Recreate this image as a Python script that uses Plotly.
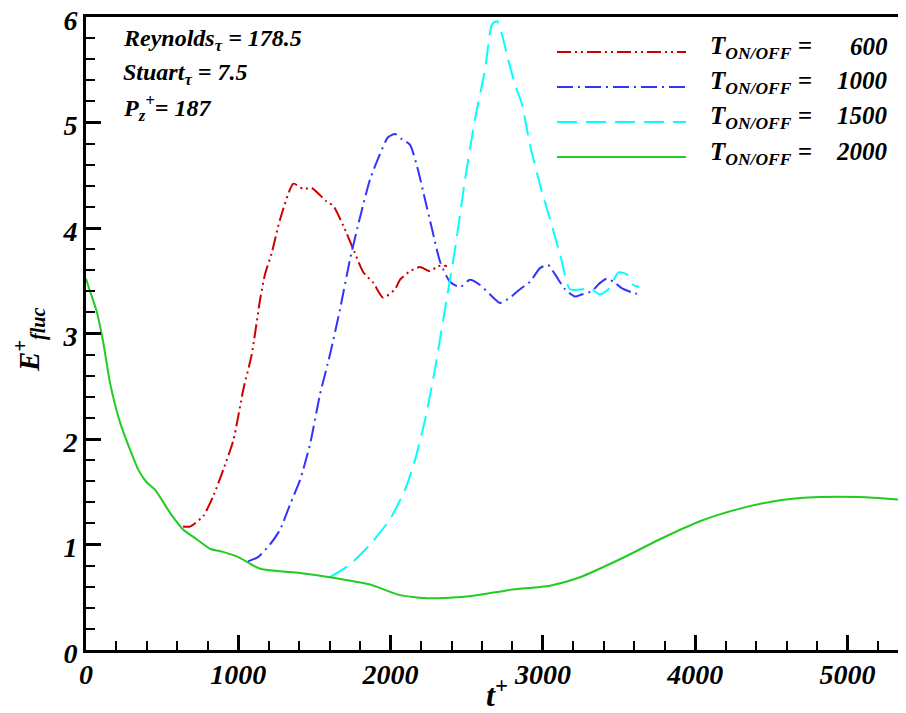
import plotly.graph_objects as go

# ---- data ----
t_600 = [637, 683, 770, 836, 902, 968, 1033, 1088, 1143, 1175, 1219, 1274, 1362, 1427, 1482,
         1580, 1624, 1690, 1755, 1821, 1887, 1950, 2029, 2062, 2127, 2193, 2259, 2311, 2370]
e_600 = [1.17, 1.17, 1.27, 1.46, 1.71, 1.99, 2.47, 2.80, 3.32, 3.56, 3.76, 4.08, 4.42, 4.37, 4.38,
         4.25, 4.21, 4.02, 3.80, 3.58, 3.48, 3.34, 3.42, 3.51, 3.59, 3.63, 3.59, 3.64, 3.64]

t_1000 = [1064, 1129, 1208, 1274, 1340, 1405, 1471, 1536, 1602, 1668, 1733, 1799, 1865, 1930, 1983,
          2029, 2075, 2127, 2180, 2226, 2272, 2325, 2390, 2456, 2521, 2587, 2653, 2718, 2784, 2850,
          2915, 2981, 3034, 3080, 3145, 3211, 3255, 3320, 3375, 3419, 3474, 3517, 3583, 3634]
e_1000 = [0.84, 0.88, 1.00, 1.14, 1.38, 1.61, 1.95, 2.42, 2.80, 3.23, 3.70, 4.10, 4.46, 4.70, 4.86,
          4.89, 4.84, 4.79, 4.55, 4.27, 3.99, 3.68, 3.49, 3.44, 3.51, 3.46, 3.37, 3.29, 3.34, 3.42,
          3.49, 3.62, 3.65, 3.56, 3.42, 3.35, 3.37, 3.40, 3.48, 3.52, 3.48, 3.43, 3.39, 3.37]

t_1500 = [1602, 1733, 1865, 1996, 2095, 2160, 2226, 2291, 2357, 2423, 2489, 2554, 2620, 2666, 2699,
          2732, 2771, 2817, 2863, 2915, 2981, 3047, 3113, 3178, 3270, 3309, 3375, 3430, 3496, 3551,
          3594, 3634]
e_1500 = [0.69, 0.81, 1.00, 1.24, 1.52, 1.80, 2.18, 2.66, 3.23, 3.80, 4.46, 5.03, 5.50, 5.93, 5.96,
          5.83, 5.60, 5.36, 5.17, 4.79, 4.41, 4.08, 3.75, 3.42, 3.42, 3.43, 3.37, 3.42, 3.58, 3.56,
          3.46, 3.44]

t_2000 = [0, 15, 70, 114, 158, 223, 289, 343, 398, 453, 552, 639, 727, 814, 900, 1000, 1143, 1405,
          1602, 1865, 2062, 2259, 2521, 2784, 3047, 3244, 3506, 3769, 4031, 4294, 4557, 4819, 5082, 5384]
e_2000 = [3.52, 3.45, 3.21, 2.91, 2.53, 2.16, 1.90, 1.71, 1.59, 1.52, 1.30, 1.14, 1.05, 0.96, 0.93,
          0.88, 0.77, 0.73, 0.69, 0.62, 0.52, 0.49, 0.51, 0.57, 0.61, 0.69, 0.86, 1.05, 1.22, 1.34,
          1.42, 1.45, 1.45, 1.42]

legend_values = ["600", "1000", "1500", "2000"]
x_ticks = [0, 1000, 2000, 3000, 4000, 5000]
y_ticks = [0, 1, 2, 3, 4, 5, 6]

colors = ["#cc0000", "#3333ff", "#00ffff", "#22cc22"]
dashes = ["14px,4px,2px,4px,2px,4px", "16px,5px,2px,5px", "20px,9px", "solid"]

FONT = "Liberation Serif"

series = [(t_600, e_600), (t_1000, e_1000), (t_1500, e_1500), (t_2000, e_2000)]

fig = go.Figure()
for (tx, ey), c, d in zip(series, colors, dashes):
    fig.add_trace(go.Scatter(x=tx, y=ey, mode="lines", showlegend=False,
                             line=dict(color=c, width=2, dash=d, shape="spline", smoothing=0.6)))

W, H = 906, 713
OFF = 8  # page body margin
# plot area in page pixels: left 86, top 17, bottom 650
L, T = 86 - OFF, 17 - OFF
B = H - (650 - OFF)
R = 0
pw, ph = W - L - R, H - T - B

def px(x):
    return (x - OFF - L) / pw

def py(y):
    return (H - B - (y - OFF)) / ph

# legend samples
leg_y = [52, 87, 122, 157]
for i, (c, d, v) in enumerate(zip(colors, dashes, legend_values)):
    fig.add_shape(type="line", xref="paper", yref="paper", x0=px(557), x1=px(686),
                  y0=py(leg_y[i]), y1=py(leg_y[i]), line=dict(color=c, width=2, dash=d))
    fig.add_annotation(xref="paper", yref="paper", x=px(708), y=py(leg_y[i] - 4),
                       xanchor="left", yanchor="middle", showarrow=False,
                       text="<b><i>T<sub>ON/OFF</sub> = </i></b>",
                       font=dict(family=FONT, size=25, color="black"))
    fig.add_annotation(xref="paper", yref="paper", x=px(890), y=py(leg_y[i] - 6),
                       xanchor="right", yanchor="middle", showarrow=False,
                       text="<b><i>" + v + "</i></b>",
                       font=dict(family=FONT, size=25, color="black"))

info = ["<b><i>Reynolds<sub>τ</sub> = 178.5</i></b>",
        "<b><i>Stuart<sub>τ</sub> = 7.5</i></b>",
        "<b><i>P<sub>z</sub><sup>+</sup>= 187</i></b>"]
for i, s in enumerate(info):
    fig.add_annotation(xref="paper", yref="paper", x=px(121), y=py(40 + 34 * i),
                       xanchor="left", yanchor="middle", showarrow=False, text=s,
                       font=dict(family=FONT, size=24, color="black"))

# axis titles
fig.add_annotation(xref="paper", yref="paper", x=px(497), y=py(693),
                   xanchor="center", yanchor="middle", showarrow=False,
                   text="<b><i>t<sup>+</sup></i></b>",
                   font=dict(family=FONT, size=32, color="black"))
fig.add_annotation(xref="paper", yref="paper", x=px(29), y=py(340),
                   xanchor="center", yanchor="middle", showarrow=False, textangle=-90,
                   text="<b><i>E<sup>+</sup><sub>fluc</sub></i></b>",
                   font=dict(family=FONT, size=29, color="black"))

tickfont = dict(family=FONT, size=28, color="black")

fig.update_layout(
    width=W, height=H, margin=dict(l=L, r=R, t=T, b=B, autoexpand=False),
    paper_bgcolor="white", plot_bgcolor="white",
    xaxis=dict(range=[0, pw / 152.3 * 1000], tickvals=x_ticks, automargin=False,
               ticktext=["<b><i>%d</i></b>" % v for v in x_ticks],
               ticklabeloverflow="allow", ticklabelstandoff=-3,
               showgrid=False, zeroline=False, showline=True, linecolor="black", linewidth=3,
               mirror=True, ticks="inside", ticklen=15, tickwidth=3, tickcolor="black",
               minor=dict(ticks="inside", ticklen=9, tickwidth=1.5, tickcolor="black", dtick=200,
                          tick0=0, showgrid=False),
               tickfont=tickfont),
    yaxis=dict(range=[0, 6], tickvals=y_ticks, automargin=False,
               ticktext=["<b><i>%d</i></b>" % v for v in y_ticks],
               ticklabeloverflow="allow", ticklabelshift=3,
               showgrid=False, zeroline=False, showline=True, linecolor="black", linewidth=3,
               mirror=False, ticks="inside", ticklen=15, tickwidth=3, tickcolor="black",
               minor=dict(ticks="inside", ticklen=9, tickwidth=1.5, tickcolor="black", dtick=0.2,
                          tick0=0, showgrid=False),
               tickfont=tickfont),
)

fig.write_html("out.html")
